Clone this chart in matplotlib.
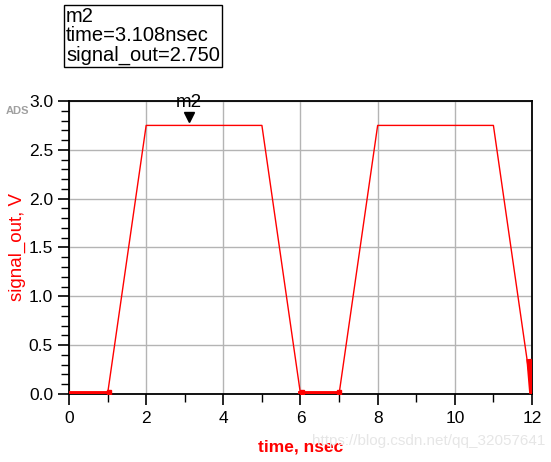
import numpy as np
import matplotlib.pyplot as plt

plt.rcParams['font.family'] = ['Liberation Sans', 'DejaVu Sans']

# trapezoid waveform (nsec, V)
time = [0, 1, 2, 5, 6, 7, 8, 11, 12]
signal_out = [0, 0, 2.75, 2.75, 0, 0, 2.75, 2.75, 0]

# densely sampled stretches drawn thicker
flat1_t = [0, 1.05]
flat1_v = [0.01, 0.01]
flat2_t = [6.0, 7.0]
flat2_v = [0.01, 0.01]
tail_t = [11.93, 12.0]
tail_v = [0.33, 0.0]

marker_t = 3.108
marker_v = 2.750

fig = plt.figure(figsize=(5.51, 4.62), dpi=100)
ax = fig.add_axes([0.1252, 0.1472, 0.8403, 0.6342])

ax.plot(time, signal_out, color='red', lw=1.0, zorder=3)
ax.plot(flat1_t, flat1_v, color='red', lw=3.5, zorder=4)
ax.plot(flat2_t, flat2_v, color='red', lw=3.5, zorder=4)
ax.plot(tail_t, tail_v, color='red', lw=4, zorder=4)
for t, v in [(1.05, 0.02), (6.05, 0.02), (7.0, 0.02)]:
    ax.plot(t, v, 's', color='red', ms=3.5, zorder=5)

# marker m2
ax.plot(marker_t, marker_v + 0.09, 'v', color='black', ms=7, zorder=6)
ax.text(marker_t, marker_v + 0.15, 'm2', ha='center', va='bottom', fontsize=13.5, color='black')

ax.set_xlim(0, 12)
ax.set_ylim(0, 3.0)
ax.set_xticks(np.arange(0, 13, 2))
ax.set_xticks(np.arange(1, 12, 2), minor=True)
ax.set_yticks(np.arange(0, 3.01, 0.5))
ax.set_yticks(np.arange(0, 3.01, 0.1), minor=True)
ax.set_yticklabels(['%.1f' % v for v in np.arange(0, 3.01, 0.5)])
ax.grid(True, which='major', color='#b4b4b4', lw=1)
ax.tick_params(which='major', direction='out', length=8, width=1.2, labelsize=12.5, colors='black')
ax.tick_params(which='minor', direction='out', length=6, width=1.0)
ax.tick_params(axis='x', pad=4)
for s in ax.spines.values():
    s.set_linewidth(1.3)

ax.set_ylabel('signal_out, V', color='red', fontsize=13.5, labelpad=2)
ax.set_xlabel('time, nsec', color='red', fontsize=12.5, fontweight='bold', labelpad=10)

fig.text(6 / 551, 1 - 111 / 462, 'ADS', color='#a0a0a0', fontsize=8, fontweight='bold', va='center')

fig.text(66 / 551, 1 - 36 / 462, 'm2\ntime=3.108nsec\nsignal_out=2.750', fontsize=14.5,
         va='center', ha='left', linespacing=1.0,
         bbox=dict(boxstyle='square,pad=0.12', fc='white', ec='black', lw=1))

fig.text(545 / 551, 1 - 441 / 462, 'https://blog.csdn.net/qq_32057641', color='#e6e6e6',
         fontsize=11, ha='right', va='center')

fig.savefig('out.png', dpi=100)
